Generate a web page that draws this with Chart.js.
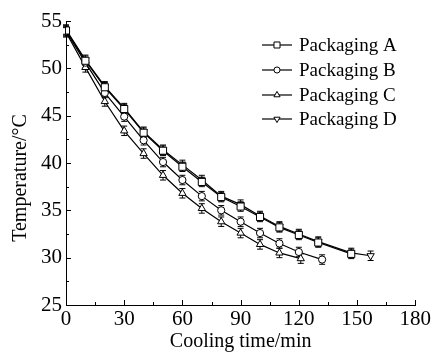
<!DOCTYPE html>
<html>
<head>
<meta charset="utf-8">
<script src="https://cdn.jsdelivr.net/npm/chart.js@4.4.0/dist/chart.umd.min.js"></script>
<style>
  html, body { margin: 0; padding: 0; background: #fff; }
</style>
</head>
<body>
<canvas id="chart" width="433" height="354"></canvas>
<script>
// ---------- DATA ----------
const seriesNames = ["Packaging A", "Packaging B", "Packaging C", "Packaging D"];

const timeA = [0, 10, 20, 30, 40, 50, 60, 70, 80, 90, 100, 110, 120, 130, 147];
const tempA = [54.0, 50.8, 48.0, 45.7, 43.2, 41.3, 39.6, 38.0, 36.4, 35.4, 34.3, 33.2, 32.4, 31.6, 30.4];

const timeB = [0, 10, 20, 30, 40, 50, 60, 70, 80, 90, 100, 110, 120, 132];
const tempB = [53.9, 50.6, 47.4, 44.9, 42.4, 40.1, 38.2, 36.5, 35.0, 33.8, 32.6, 31.5, 30.6, 29.8];

const timeC = [0, 10, 20, 30, 40, 50, 60, 70, 80, 90, 100, 110, 121];
const tempC = [53.8, 50.1, 46.5, 43.4, 41.0, 38.7, 36.8, 35.2, 33.8, 32.6, 31.4, 30.5, 29.9];

const timeD = [0, 10, 20, 30, 40, 50, 60, 70, 80, 90, 100, 110, 120, 130, 147, 157];
const tempD = [54.1, 50.9, 48.1, 45.8, 43.3, 41.4, 39.8, 38.2, 36.5, 35.6, 34.4, 33.3, 32.5, 31.7, 30.5, 30.2];

const errorBar = 0.5;

const xTicks = [0, 30, 60, 90, 120, 150, 180];
const yTicks = [25, 30, 35, 40, 45, 50, 55];

const FONT = "'Liberation Serif', 'DejaVu Serif', serif";

function pts(xs, ys) {
  return xs.map((x, i) => ({ x: x, y: ys[i] }));
}

const markers = [
  { style: "rect", radius: 5, rotation: 0 },
  { style: "circle", radius: 3.6, rotation: 0 },
  { style: "triangle", radius: 4.2, rotation: 0 },
  { style: "triangle", radius: 4.2, rotation: 180 }
];

const allData = [pts(timeA, tempA), pts(timeB, tempB), pts(timeC, tempC), pts(timeD, tempD)];

const datasets = allData.map((d, i) => ({
  label: seriesNames[i],
  data: d,
  showLine: true,
  borderColor: "#000",
  borderWidth: 1.2,
  backgroundColor: "#fff",
  pointStyle: markers[i].style,
  pointRadius: markers[i].radius,
  pointRotation: markers[i].rotation,
  pointBorderColor: "#000",
  pointBackgroundColor: "#fff",
  pointBorderWidth: 1
}));

// ---------- ERROR BARS ----------
const errorBars = {
  id: "errorBars",
  beforeDatasetsDraw(chart) {
    const ctx = chart.ctx;
    const xs = chart.scales.x, ys = chart.scales.y;
    ctx.save();
    ctx.strokeStyle = "#000";
    ctx.lineWidth = 1;
    chart.data.datasets.forEach(ds => {
      ds.data.forEach(p => {
        const px = xs.getPixelForValue(p.x);
        const top = ys.getPixelForValue(p.y + errorBar);
        const bot = ys.getPixelForValue(p.y - errorBar);
        ctx.beginPath();
        ctx.moveTo(px, top); ctx.lineTo(px, bot);
        ctx.moveTo(px - 3, top); ctx.lineTo(px + 3, top);
        ctx.moveTo(px - 3, bot); ctx.lineTo(px + 3, bot);
        ctx.stroke();
      });
    });
    ctx.restore();
  }
};

// ---------- INWARD TICKS, Y TITLE, LEGEND ----------
const decorations = {
  id: "decorations",
  afterDraw(chart) {
    const ctx = chart.ctx;
    const xs = chart.scales.x, ys = chart.scales.y;
    const a = chart.chartArea;
    ctx.save();
    ctx.strokeStyle = "#000";
    ctx.lineWidth = 1;
    ctx.beginPath();
    for (let v = 0; v <= 180; v += 15) {
      const px = Math.round(xs.getPixelForValue(v)) + 0.5;
      const len = v % 30 === 0 ? 5 : 3;
      ctx.moveTo(px, a.bottom); ctx.lineTo(px, a.bottom - len);
    }
    for (let v = 25; v <= 55; v += 2.5) {
      const py = Math.round(ys.getPixelForValue(v)) + 0.5;
      const len = v % 5 === 0 ? 5 : 3;
      ctx.moveTo(a.left, py); ctx.lineTo(a.left + len, py);
    }
    ctx.stroke();

    // y axis title
    ctx.save();
    ctx.translate(21, 178);
    ctx.rotate(-Math.PI / 2);
    ctx.font = "20px " + FONT;
    ctx.fillStyle = "#000";
    ctx.textAlign = "center";
    ctx.textBaseline = "middle";
    ctx.fillText("Temperature/°C", 0, 0);
    ctx.restore();

    // legend
    const lx0 = 262, lx1 = 292, mx = 277, tx = 299;
    const rows = [45, 70, 95, 119];
    ctx.textBaseline = "middle";
    rows.forEach((y, i) => {
      ctx.beginPath();
      ctx.strokeStyle = "#000";
      ctx.lineWidth = 1.2;
      ctx.moveTo(lx0, y); ctx.lineTo(lx1, y);
      ctx.stroke();
      ctx.lineWidth = 1;
      ctx.fillStyle = "#fff";
      Chart.helpers.drawPoint(ctx, {
        pointStyle: markers[i].style,
        rotation: markers[i].rotation,
        radius: markers[i].radius * 0.85,
        borderWidth: 1
      }, mx, y);
      ctx.font = "19px " + FONT;
      ctx.fillStyle = "#000";
      ctx.fillText(seriesNames[i], tx, y + 1);
    });
    ctx.restore();
  }
};

// ---------- CHART ----------
new Chart(document.getElementById("chart"), {
  type: "scatter",
  data: { datasets: datasets },
  options: {
    responsive: false,
    animation: false,
    layout: { padding: { top: 21, right: 16, left: 0, bottom: 0 } },
    plugins: {
      legend: { display: false },
      tooltip: { enabled: false }
    },
    scales: {
      x: {
        type: "linear",
        min: 0, max: 180,
        afterFit(s) { s.height = 49; },
        afterBuildTicks(s) { s.ticks = xTicks.map(v => ({ value: v })); },
        grid: { display: true, drawOnChartArea: false, drawTicks: false },
        border: { display: true, color: "#000", width: 1 },
        ticks: { color: "#000", font: { family: FONT, size: 21 }, padding: 2, maxRotation: 0 },
        title: { display: true, text: "Cooling time/min", color: "#000", font: { family: FONT, size: 20 }, padding: { top: -3, bottom: 0 } }
      },
      y: {
        type: "linear",
        min: 25, max: 55,
        afterFit(s) { s.width = 66; },
        afterBuildTicks(s) { s.ticks = yTicks.map(v => ({ value: v })); },
        grid: { display: true, drawOnChartArea: false, drawTicks: false },
        border: { display: true, color: "#000", width: 1 },
        ticks: { color: "#000", font: { family: FONT, size: 21 }, padding: 4 }
      }
    }
  },
  plugins: [errorBars, decorations]
});
</script>
</body>
</html>
